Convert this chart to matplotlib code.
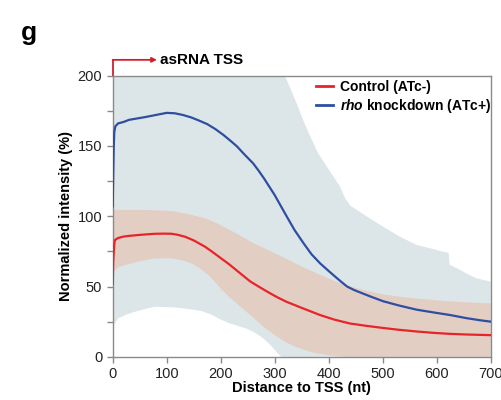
import numpy as np
import matplotlib
matplotlib.use("Agg")
import matplotlib.pyplot as plt
from matplotlib.ticker import MultipleLocator

plt.rcParams['font.family'] = ['Liberation Sans', 'DejaVu Sans']
plt.rcParams['mathtext.fontset'] = 'custom'
plt.rcParams['mathtext.rm'] = 'Liberation Sans'
plt.rcParams['mathtext.bf'] = 'Liberation Sans:bold'
plt.rcParams['mathtext.it'] = 'Liberation Sans:italic'
plt.rcParams['mathtext.bfit'] = 'Liberation Sans:bold:italic'

# Mean profiles (normalized intensity, %) vs distance to TSS (nt)
ctrl_x = [0, 1, 2, 3, 4, 10, 20, 30, 47, 60, 78, 95, 109, 120, 134, 150, 171, 185,
          199, 215, 230, 254, 270, 290, 305, 322, 350, 384, 410, 439, 470, 501,
          530, 563, 595, 625, 660, 700]
ctrl_y = [52, 68, 75, 80, 83, 84.5, 85.5, 86, 86.6, 87, 87.5, 87.6, 87.5, 86.8, 85.4,
          82.8, 78.3, 74.5, 70.5, 66, 61.3, 53.8, 50, 45.5, 42.3, 39.1, 34.8, 29.7,
          26.5, 23.7, 22, 20.5, 19.2, 18, 17, 16.3, 15.8, 15.4]

rho_x = [0, 1, 2, 3, 5, 10, 20, 30, 45, 60, 80, 100, 115, 130, 145, 160, 175, 190,
         205, 217, 230, 245, 260, 270, 280, 290, 300, 311, 322, 337, 353, 368, 384,
         400, 415, 425, 434, 447, 460, 480, 501, 530, 563, 595, 625, 655, 680, 700]
rho_y = [107, 130, 150, 160, 164, 166, 167, 168.5, 169.5, 170.5, 172, 173.5, 173.2,
         172, 170.3, 168, 165.5, 162, 157.8, 154, 149.7, 143.5, 137.6, 132.5, 127,
         121, 115, 107.5, 100, 90, 81, 73, 66.5, 61, 56, 52.8, 50, 47.5, 45.5, 42.5,
         39.5, 36.5, 33.5, 31.5, 29.7, 27.5, 26, 25]

# Spread bands (upper / lower edges)
ctrl_hi_x = [0, 50, 97, 115, 134, 150, 171, 190, 208, 230, 260, 290, 320, 350, 380,
             410, 440, 470, 500, 530, 560, 590, 620, 660, 700]
ctrl_hi_y = [104.5, 104.5, 104, 103.3, 102, 100.5, 98.5, 95.5, 92, 87.5, 81, 75.5,
             70, 64.2, 59, 54, 50, 47, 44.5, 42.8, 41.5, 40.5, 39.5, 38.7, 38]
ctrl_lo_x = [0, 2, 4, 12, 23, 50, 78, 109, 130, 146, 165, 183, 200, 217, 240, 260,
             279, 300, 322, 341, 370, 402, 430, 700]
ctrl_lo_y = [55, 59, 61.7, 64, 65.3, 68, 70, 70, 68.5, 66.5, 62, 56, 48.5, 42, 34.5,
             28, 21.4, 15.5, 10, 6.8, 3, 1, 0, 0]

rho_hi_x = [0, 319, 330, 341, 353, 366, 380, 397, 410, 421, 430, 440, 458, 480, 501,
            532, 563, 590, 612, 622, 624, 640, 655, 674, 700]
rho_hi_y = [200, 200, 190, 180, 168, 156.6, 145, 135, 127.5, 121, 113, 107.5, 103,
            97.5, 92.5, 85.4, 79.5, 77, 74.7, 74, 65.5, 62.5, 59.3, 55.8, 53.4]
rho_lo_x = [0, 2, 4, 10, 25, 41, 60, 78, 109, 130, 146, 165, 183, 200, 217, 232, 248,
            264, 279, 292, 303, 312, 700]
rho_lo_y = [20, 22, 23.8, 27.3, 30, 32, 34, 35.6, 35.2, 34.5, 33.7, 32.5, 30, 26.5,
            23.7, 22, 20, 17, 13, 8.5, 3.6, 0, 0]

x_ticks = [0, 100, 200, 300, 400, 500, 600, 700]
y_ticks = [0, 50, 100, 150, 200]

RED = '#e8242b'
BLUE = '#2f4ea1'
RED_BAND = '#e2cec3'
BLUE_BAND = '#dce6e8'
AXIS_GRAY = '#8a8a8a'

fig = plt.figure(figsize=(5.02, 4.0), dpi=100)
ax = fig.add_axes([0.2245, 0.108, 0.7530, 0.703])


def band(ax, xh, yh, xl, yl, color):
    px = np.concatenate([np.asarray(xh, float), np.asarray(xl, float)[::-1]])
    py = np.concatenate([np.asarray(yh, float), np.asarray(yl, float)[::-1]])
    ax.fill(px, py, color=color, lw=0, zorder=1)


band(ax, rho_hi_x, rho_hi_y, rho_lo_x, rho_lo_y, BLUE_BAND)
band(ax, ctrl_hi_x, ctrl_hi_y, ctrl_lo_x, ctrl_lo_y, RED_BAND)

ax.plot(ctrl_x, ctrl_y, color=RED, lw=1.6, zorder=3, label='Control (ATc-)')
ax.plot(rho_x, rho_y, color=BLUE, lw=1.6, zorder=3,
        label=r'$\bfit{rho}$ knockdown (ATc+)')

ax.set_xlim(0, 700)
ax.set_ylim(0, 200)
ax.set_xticks(x_ticks)
ax.set_yticks(y_ticks)
ax.yaxis.set_minor_locator(MultipleLocator(25))

for s in ax.spines.values():
    s.set_color(AXIS_GRAY)
    s.set_linewidth(1.0)
ax.tick_params(which='both', direction='out', color=AXIS_GRAY, labelsize=10.5,
               labelcolor='#222222', width=1.0, length=4)

ax.set_xlabel('Distance to TSS (nt)', fontsize=10.5, fontweight='bold', labelpad=0)
ax.set_ylabel('Normalized intensity (%)', fontsize=10.5, fontweight='bold', labelpad=3)

leg = ax.legend(loc='upper right', bbox_to_anchor=(1.015, 1.005), frameon=False,
                handlelength=1.2, handletextpad=0.5, labelspacing=0.2,
                prop={'weight': 'bold', 'size': 10}, borderaxespad=0.0)
for h in leg.get_lines():
    h.set_linewidth(2.0)

# TSS arrow above the axes
ax.annotate('', xy=(0.117, 1.056), xytext=(0.0, 1.056), xycoords='axes fraction',
            arrowprops=dict(arrowstyle='-|>', color='#d0202e', lw=1.3,
                            mutation_scale=7, shrinkA=0, shrinkB=0),
            annotation_clip=False)
ax.plot([0, 0], [1.0, 1.056], transform=ax.transAxes, color='#d0202e', lw=1.3,
        clip_on=False, solid_capstyle='butt')
ax.text(0.124, 1.056, 'asRNA TSS', transform=ax.transAxes, fontsize=11,
        fontweight='bold', va='center', ha='left')

fig.text(0.042, 0.9, 'g', fontsize=19, fontweight='bold', ha='left', va='baseline')

fig.savefig('out.png', dpi=100)
